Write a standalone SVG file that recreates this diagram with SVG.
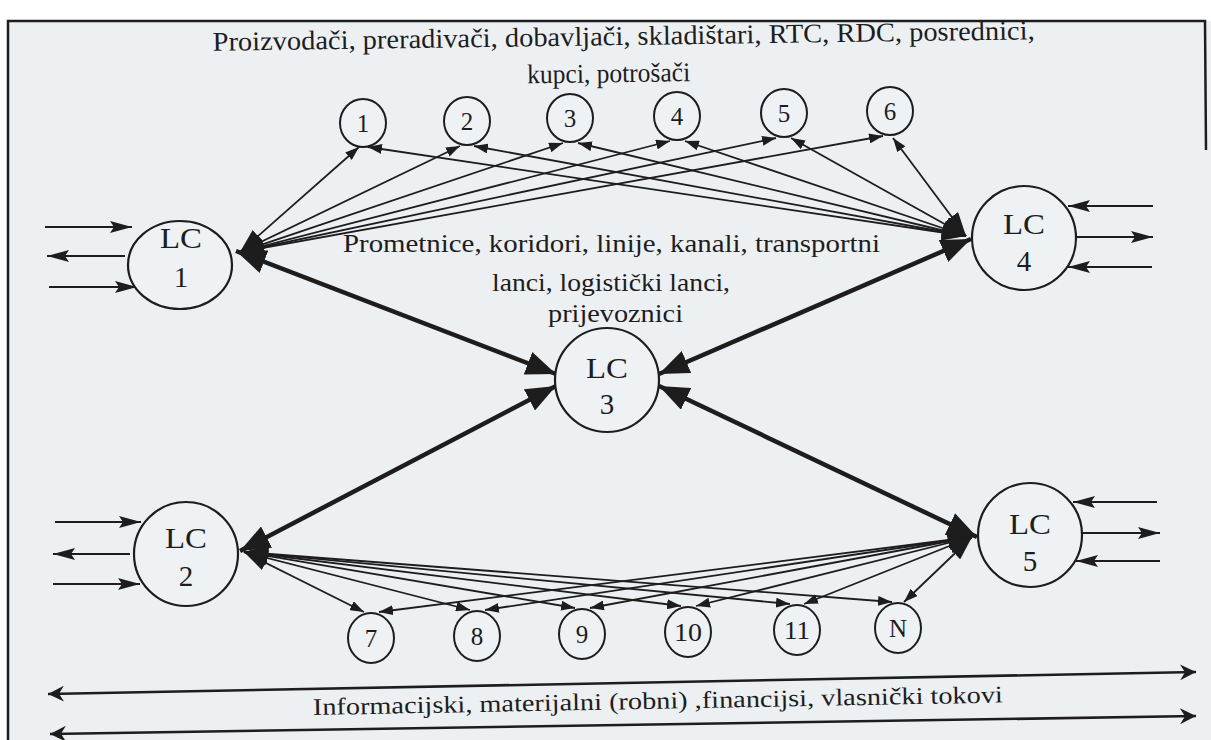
<svg xmlns="http://www.w3.org/2000/svg" width="1211" height="740" viewBox="0 0 1211 740">
<style>
.t{font-family:"Liberation Serif","DejaVu Serif",serif;fill:#1d1d1d}
.lc{fill:#eff2f5;stroke:#1d1d1d;stroke-width:2.2}
.sc{fill:#eff2f5;stroke:#1d1d1d;stroke-width:2}
.thin{stroke:#1d1d1d;stroke-width:1.8;fill:none}
.thick{stroke:#1d1d1d;stroke-width:4.5;fill:none}
.side{stroke:#1d1d1d;stroke-width:2.2;fill:none}
.long{stroke:#1d1d1d;stroke-width:2.6;fill:none}
</style>
<defs>
<marker id="tipS" markerUnits="userSpaceOnUse" viewBox="0 0 14 10" refX="14" refY="5" markerWidth="14" markerHeight="10" orient="auto-start-reverse"><path d="M0,0 L14,5 L0,10 z" fill="#1d1d1d"/></marker>
<marker id="tipL" markerUnits="userSpaceOnUse" viewBox="0 0 24 16" refX="24" refY="8" markerWidth="24" markerHeight="16" orient="auto-start-reverse"><path d="M0,0 L24,8 L0,16 z" fill="#1d1d1d"/></marker>
<marker id="tipB" markerUnits="userSpaceOnUse" viewBox="0 0 30 24" refX="30" refY="12" markerWidth="30" markerHeight="24" orient="auto-start-reverse"><path d="M0,0 L30,12 L0,24 z" fill="#1d1d1d"/></marker>
<marker id="tipSide" markerUnits="userSpaceOnUse" viewBox="0 0 22 12" refX="22" refY="6" markerWidth="22" markerHeight="12" orient="auto-start-reverse"><path d="M0,0 L22,6 L0,12 L4,6 z" fill="#1d1d1d"/></marker>
<marker id="tipLong" markerUnits="userSpaceOnUse" viewBox="0 0 16 16" refX="16" refY="8" markerWidth="16" markerHeight="16" orient="auto-start-reverse"><path d="M0,0 L16,8 L0,16 L5,8 z" fill="#1d1d1d"/></marker>
</defs>
<rect x="0" y="0" width="1211" height="740" fill="#ffffff"/>
<rect x="8" y="21" width="1203" height="719" fill="#edf0f3"/>
<path d="M8,740 L8,21 L1205,21 L1206,150" fill="none" stroke="#1d1d1d" stroke-width="2.5"/>

<g id="labels">
<g transform="rotate(-0.8 624 60)">
<text class="t" x="213" y="45" font-size="27" textLength="822" lengthAdjust="spacingAndGlyphs">Proizvodači, preradivači, dobavljači, skladištari, RTC, RDC, posrednici,</text>
<text class="t" x="527" y="82" font-size="27" textLength="163" lengthAdjust="spacingAndGlyphs">kupci, potrošači</text>
</g>
<text class="t" x="343" y="252" font-size="25" textLength="537" lengthAdjust="spacingAndGlyphs">Prometnice, koridori, linije, kanali, transportni</text>
<text class="t" x="492" y="291" font-size="25" textLength="238" lengthAdjust="spacingAndGlyphs">lanci, logistički lanci,</text>
<text class="t" x="548" y="322" font-size="25" textLength="135" lengthAdjust="spacingAndGlyphs">prijevoznici</text>
<text class="t" x="313" y="715" font-size="24" textLength="690" lengthAdjust="spacingAndGlyphs" transform="rotate(-1.04 313 715)">Informacijski, materijalni (robni) ,financijsi, vlasnički tokovi</text>
</g>

<g id="connectors">
<!-- LC1 to top circles -->
<line class="thin" x1="240" y1="252" x2="359" y2="147" marker-start="url(#tipL)" marker-end="url(#tipS)"/>
<line class="thin" x1="240" y1="252" x2="460" y2="146" marker-start="url(#tipL)" marker-end="url(#tipS)"/>
<line class="thin" x1="240" y1="252" x2="563" y2="143" marker-start="url(#tipL)" marker-end="url(#tipS)"/>
<line class="thin" x1="240" y1="252" x2="670" y2="141" marker-start="url(#tipL)" marker-end="url(#tipS)"/>
<line class="thin" x1="240" y1="252" x2="776" y2="138" marker-start="url(#tipL)" marker-end="url(#tipS)"/>
<line class="thin" x1="240" y1="252" x2="883" y2="136" marker-start="url(#tipL)" marker-end="url(#tipS)"/>
<!-- LC4 to top circles -->
<line class="thin" x1="966" y1="236" x2="368" y2="147" marker-start="url(#tipL)" marker-end="url(#tipS)"/>
<line class="thin" x1="966" y1="236" x2="474" y2="146" marker-start="url(#tipL)" marker-end="url(#tipS)"/>
<line class="thin" x1="966" y1="236" x2="578" y2="143" marker-start="url(#tipL)" marker-end="url(#tipS)"/>
<line class="thin" x1="966" y1="236" x2="685" y2="141" marker-start="url(#tipL)" marker-end="url(#tipS)"/>
<line class="thin" x1="966" y1="236" x2="791" y2="138" marker-start="url(#tipL)" marker-end="url(#tipS)"/>
<line class="thin" x1="966" y1="236" x2="893" y2="138" marker-start="url(#tipL)" marker-end="url(#tipS)"/>
<!-- LC2 to bottom circles -->
<line class="thin" x1="244" y1="552" x2="364" y2="612" marker-start="url(#tipL)" marker-end="url(#tipS)"/>
<line class="thin" x1="244" y1="552" x2="470" y2="610" marker-start="url(#tipL)" marker-end="url(#tipS)"/>
<line class="thin" x1="244" y1="552" x2="575" y2="608" marker-start="url(#tipL)" marker-end="url(#tipS)"/>
<line class="thin" x1="244" y1="552" x2="681" y2="606" marker-start="url(#tipL)" marker-end="url(#tipS)"/>
<line class="thin" x1="244" y1="552" x2="790" y2="604" marker-start="url(#tipL)" marker-end="url(#tipS)"/>
<line class="thin" x1="244" y1="552" x2="892" y2="602" marker-start="url(#tipL)" marker-end="url(#tipS)"/>
<!-- LC5 to bottom circles -->
<line class="thin" x1="972" y1="537" x2="379" y2="612" marker-start="url(#tipL)" marker-end="url(#tipS)"/>
<line class="thin" x1="972" y1="537" x2="485" y2="610" marker-start="url(#tipL)" marker-end="url(#tipS)"/>
<line class="thin" x1="972" y1="537" x2="590" y2="608" marker-start="url(#tipL)" marker-end="url(#tipS)"/>
<line class="thin" x1="972" y1="537" x2="696" y2="606" marker-start="url(#tipL)" marker-end="url(#tipS)"/>
<line class="thin" x1="972" y1="537" x2="804" y2="604" marker-start="url(#tipL)" marker-end="url(#tipS)"/>
<line class="thin" x1="972" y1="537" x2="904" y2="602" marker-start="url(#tipL)" marker-end="url(#tipS)"/>
<!-- thick LC links -->
<line class="thick" x1="236" y1="251" x2="556" y2="374" marker-start="url(#tipB)" marker-end="url(#tipB)"/>
<line class="thick" x1="971" y1="239" x2="659" y2="374" marker-start="url(#tipB)" marker-end="url(#tipB)"/>
<line class="thick" x1="240" y1="551" x2="556" y2="386" marker-start="url(#tipB)" marker-end="url(#tipB)"/>
<line class="thick" x1="977" y1="537" x2="659" y2="386" marker-start="url(#tipB)" marker-end="url(#tipB)"/>
<!-- side arrows -->
<line class="side" x1="45" y1="227" x2="132" y2="227" marker-end="url(#tipSide)"/>
<line class="side" x1="125" y1="256" x2="47" y2="256" marker-end="url(#tipSide)"/>
<line class="side" x1="49" y1="287" x2="137" y2="287" marker-end="url(#tipSide)"/>
<line class="side" x1="1153" y1="206" x2="1068" y2="206" marker-end="url(#tipSide)"/>
<line class="side" x1="1077" y1="237" x2="1153" y2="237" marker-end="url(#tipSide)"/>
<line class="side" x1="1152" y1="267" x2="1068" y2="267" marker-end="url(#tipSide)"/>
<line class="side" x1="55" y1="522" x2="141" y2="522" marker-end="url(#tipSide)"/>
<line class="side" x1="130" y1="554" x2="53" y2="554" marker-end="url(#tipSide)"/>
<line class="side" x1="53" y1="584" x2="140" y2="584" marker-end="url(#tipSide)"/>
<line class="side" x1="1157" y1="502" x2="1073" y2="502" marker-end="url(#tipSide)"/>
<line class="side" x1="1082" y1="533" x2="1160" y2="533" marker-end="url(#tipSide)"/>
<line class="side" x1="1160" y1="561" x2="1076" y2="561" marker-end="url(#tipSide)"/>
<!-- long flow arrows -->
<line class="long" x1="48" y1="694" x2="1196" y2="672" marker-start="url(#tipLong)" marker-end="url(#tipLong)"/>
<line class="long" x1="50" y1="734" x2="1196" y2="716" marker-start="url(#tipLong)" marker-end="url(#tipLong)"/>
</g>

<g id="LC1"><ellipse class="lc" cx="180" cy="265" rx="52" ry="44"/><text class="t" x="160" y="248" font-size="29" textLength="42" lengthAdjust="spacingAndGlyphs">LC</text><text class="t" x="181" y="287" font-size="29" text-anchor="middle">1</text></g>
<g id="LC2"><circle class="lc" cx="186" cy="554" r="52"/><text class="t" x="165" y="548" font-size="29" textLength="42" lengthAdjust="spacingAndGlyphs">LC</text><text class="t" x="186" y="586" font-size="29" text-anchor="middle">2</text></g>
<g id="LC3"><circle class="lc" cx="607" cy="380" r="52"/><text class="t" x="586" y="378" font-size="29" textLength="42" lengthAdjust="spacingAndGlyphs">LC</text><text class="t" x="607" y="414" font-size="29" text-anchor="middle">3</text></g>
<g id="LC4"><circle class="lc" cx="1024" cy="238" r="52"/><text class="t" x="1003" y="234" font-size="29" textLength="42" lengthAdjust="spacingAndGlyphs">LC</text><text class="t" x="1024" y="271" font-size="29" text-anchor="middle">4</text></g>
<g id="LC5"><circle class="lc" cx="1030" cy="535" r="52"/><text class="t" x="1009" y="534" font-size="29" textLength="42" lengthAdjust="spacingAndGlyphs">LC</text><text class="t" x="1030" y="571" font-size="29" text-anchor="middle">5</text></g>

<g id="n1"><ellipse class="sc" cx="363" cy="123" rx="23" ry="24"/><text class="t" x="363" y="132" font-size="25" text-anchor="middle">1</text></g>
<g id="n2"><ellipse class="sc" cx="467" cy="121" rx="23" ry="24"/><text class="t" x="467" y="130" font-size="25" text-anchor="middle">2</text></g>
<g id="n3"><ellipse class="sc" cx="570" cy="118" rx="23" ry="24"/><text class="t" x="570" y="127" font-size="25" text-anchor="middle">3</text></g>
<g id="n4"><ellipse class="sc" cx="677" cy="116" rx="23" ry="24"/><text class="t" x="677" y="125" font-size="25" text-anchor="middle">4</text></g>
<g id="n5"><ellipse class="sc" cx="784" cy="113" rx="23" ry="24"/><text class="t" x="784" y="122" font-size="25" text-anchor="middle">5</text></g>
<g id="n6"><ellipse class="sc" cx="890" cy="111" rx="23" ry="24"/><text class="t" x="890" y="120" font-size="25" text-anchor="middle">6</text></g>

<g id="n7"><ellipse class="sc" cx="371" cy="638" rx="23" ry="25"/><text class="t" x="371" y="647" font-size="25" text-anchor="middle">7</text></g>
<g id="n8"><ellipse class="sc" cx="477" cy="636" rx="23" ry="25"/><text class="t" x="477" y="645" font-size="25" text-anchor="middle">8</text></g>
<g id="n9"><ellipse class="sc" cx="582" cy="634" rx="23" ry="25"/><text class="t" x="582" y="643" font-size="25" text-anchor="middle">9</text></g>
<g id="n10"><ellipse class="sc" cx="688" cy="632" rx="23" ry="25"/><text class="t" x="688" y="641" font-size="25" text-anchor="middle" textLength="28" lengthAdjust="spacingAndGlyphs">10</text></g>
<g id="n11"><ellipse class="sc" cx="797" cy="630" rx="23" ry="25"/><text class="t" x="797" y="639" font-size="25" text-anchor="middle" textLength="26" lengthAdjust="spacingAndGlyphs">11</text></g>
<g id="nN"><ellipse class="sc" cx="898" cy="628" rx="23" ry="25"/><text class="t" x="898" y="637" font-size="25" text-anchor="middle">N</text></g>
</svg>
